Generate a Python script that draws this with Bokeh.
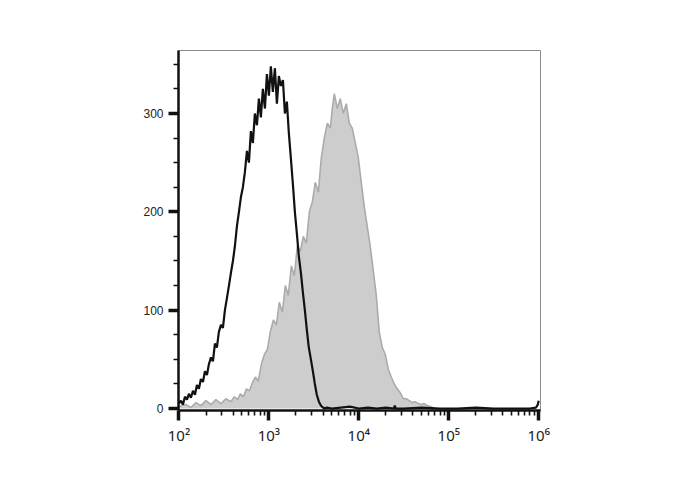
from bokeh.plotting import figure
from bokeh.models import Range1d, FixedTicker, SingleIntervalTicker
from bokeh.embed import file_html
from bokeh.resources import INLINE

# ---- data (log10 fluorescence position, event count) ----
ctrl_log = [2.000, 2.022, 2.044, 2.067, 2.089, 2.111, 2.133, 2.156, 2.178, 2.200,
            2.222, 2.244, 2.267, 2.289, 2.311, 2.333, 2.356, 2.378, 2.400, 2.422,
            2.444, 2.467, 2.489, 2.511, 2.533, 2.556, 2.578, 2.600, 2.622, 2.644,
            2.667, 2.689, 2.711, 2.733, 2.756, 2.778, 2.800, 2.822, 2.844, 2.867,
            2.889, 2.911, 2.933, 2.956, 2.978, 3.000, 3.022, 3.044, 3.067, 3.089,
            3.111, 3.133, 3.156, 3.178, 3.200, 3.222, 3.244, 3.267, 3.289, 3.311,
            3.333, 3.356, 3.378, 3.400, 3.422, 3.444, 3.467, 3.489, 3.511, 3.533,
            3.556, 3.578, 3.600, 3.622, 3.644, 3.700, 3.800, 3.900, 4.000, 4.100,
            4.200, 4.300, 4.389, 4.400, 4.411, 4.500, 4.700, 4.900, 5.100, 5.300,
            5.500, 5.700, 5.900, 5.970, 5.990, 6.000]
ctrl_cnt = [5, 8, 4, 12, 9, 15, 11, 18, 14, 24,
            20, 30, 27, 38, 34, 45, 52, 48, 66, 62,
            78, 85, 82, 100, 112, 125, 138, 150, 165, 185,
            200, 215, 225, 240, 262, 250, 282, 270, 300, 288,
            315, 296, 325, 305, 340, 318, 348, 322, 346, 310,
            338, 328, 334, 300, 312, 280, 255, 228, 200, 178,
            155, 138, 118, 100, 80, 62, 50, 38, 25, 14,
            7, 3, 1, 0, 1, 0, 1, 2, 0, 1,
            0, 1, 0, 3, 0, 0, 1, 0, 0, 1,
            0, 0, 0, 1, 4, 8]

stain_log = [2.000, 2.078, 2.133, 2.189, 2.244, 2.300, 2.356, 2.411, 2.467, 2.522,
             2.578, 2.616, 2.650, 2.683, 2.716, 2.750, 2.783, 2.816, 2.850, 2.883,
             2.916, 2.950, 2.983, 3.016, 3.050, 3.083, 3.116, 3.150, 3.183, 3.216,
             3.250, 3.283, 3.316, 3.350, 3.383, 3.416, 3.450, 3.483, 3.516, 3.550,
             3.583, 3.616, 3.650, 3.683, 3.705, 3.727, 3.761, 3.794, 3.827, 3.861,
             3.894, 3.927, 3.961, 3.994, 4.027, 4.061, 4.094, 4.127, 4.161, 4.194,
             4.227, 4.261, 4.294, 4.327, 4.361, 4.394, 4.427, 4.461, 4.494, 4.527,
             4.561, 4.594, 4.627, 4.661, 4.694, 4.727, 4.761, 4.794, 4.844]
stain_cnt = [2, 4, 1, 6, 3, 8, 4, 9, 5, 10,
             7, 12, 9, 15, 12, 20, 18, 26, 32, 28,
             45, 55, 60, 78, 90, 85, 108, 98, 125, 115,
             145, 135, 165, 160, 175, 168, 200, 210, 230, 220,
             255, 275, 290, 285, 305, 320, 305, 315, 300, 310,
             290, 285, 270, 255, 230, 205, 185, 165, 140, 115,
             78, 62, 55, 40, 32, 25, 20, 16, 10, 10,
             8, 6, 7, 5, 4, 5, 3, 2, 0]

x_major = [100, 1000, 10000, 100000, 1000000]
x_labels = ["10\u00b2", "10\u00b3", "10\u2074", "10\u2075", "10\u2076"]
y_major = [0, 100, 200, 300]

ctrl_x = [10 ** v for v in ctrl_log]
stain_x = [10 ** v for v in stain_log]

p = figure(width=680, height=482, x_axis_type="log",
           x_range=Range1d(10 ** 1.995, 10 ** 6.02), y_range=Range1d(-2, 364),
           output_backend="svg", toolbar_location=None,
           min_border_left=178, min_border_right=140, min_border_top=50, min_border_bottom=72)
p.background_fill_color = "white"
p.border_fill_color = "white"
p.outline_line_color = "#8c8c8c"
p.outline_line_width = 1
p.xgrid.visible = False
p.ygrid.visible = False

# stained sample: filled grey histogram
p.varea(x=stain_x, y1=0, y2=stain_cnt, fill_color="#cdcdcd")
p.line(stain_x, stain_cnt, line_color="#ababab", line_width=1.6)
# isotype control: black outline
p.line(ctrl_x, ctrl_cnt, line_color="#111111", line_width=2.2)

minor = [m * 10 ** k for k in range(2, 6) for m in range(2, 10)]
p.xaxis.ticker = FixedTicker(ticks=x_major, minor_ticks=minor)
p.xaxis.major_label_overrides = {t: s for t, s in zip(x_major, x_labels)}
p.xaxis.major_label_text_align = "left"
p.yaxis.ticker = SingleIntervalTicker(interval=100, num_minor_ticks=4)

for ax in (p.xaxis[0], p.yaxis[0]):
    ax.axis_line_color = "#111111"
    ax.axis_line_width = 2.5
    ax.major_tick_line_color = "#111111"
    ax.major_tick_line_width = 3.5
    ax.major_tick_out = 10
    ax.major_tick_in = 0
    ax.minor_tick_line_color = "#111111"
    ax.minor_tick_line_width = 1.6
    ax.minor_tick_out = 5
    ax.minor_tick_in = 0
    ax.major_label_text_color = "#222222"

p.yaxis.major_label_text_font = "Liberation Sans"
p.yaxis.major_label_text_font_size = "12px"
p.yaxis.major_label_standoff = 5
p.xaxis.major_label_text_font = "Noto Sans"
p.xaxis.major_label_text_font_size = "15px"
p.xaxis.major_label_standoff = 4

open("out.html", "w").write(file_html(p, INLINE))
